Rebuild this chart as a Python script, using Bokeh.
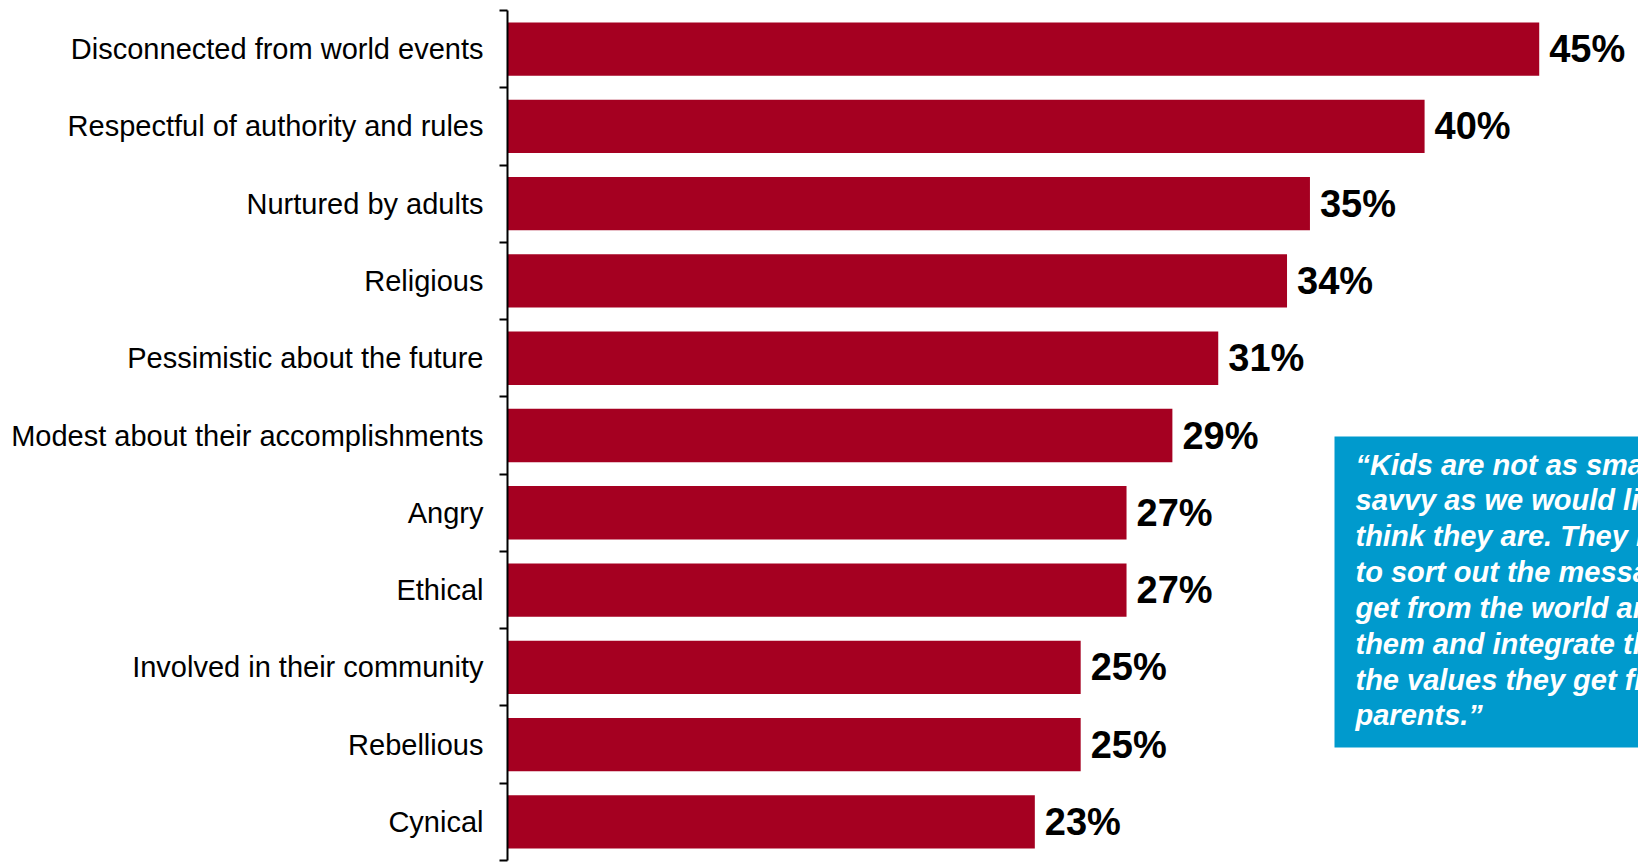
from bokeh.plotting import figure
from bokeh.models import Range1d, FixedTicker
from bokeh.embed import file_html
from bokeh.resources import INLINE
from bokeh.core.properties import value

categories = [
    "Disconnected from world events",
    "Respectful of authority and rules",
    "Nurtured by adults",
    "Religious",
    "Pessimistic about the future",
    "Modest about their accomplishments",
    "Angry",
    "Ethical",
    "Involved in their community",
    "Rebellious",
    "Cynical",
]
values = [45, 40, 35, 34, 31, 29, 27, 27, 25, 25, 23]
value_labels = [f"{v}%" for v in values]
quote_lines = [
    "\u201cKids are not as smart and",
    "savvy as we would like to",
    "think they are. They need help",
    "to sort out the messages they",
    "get from the world around",
    "them and integrate them with",
    "the values they get from",
    "parents.\u201d",
]

n = len(categories)
centers = [i + 0.5 for i in range(n)]
boundaries = [float(i) for i in range(n + 1)]

W, H = 1638, 866
FRAME_LEFT = 507
TOP = 10
BOTTOM = 6
X_MAX = 49.33
PX_X = (W - FRAME_LEFT) / X_MAX
PX_Y = (H - TOP - BOTTOM) / n

def dx(px):
    return (px - FRAME_LEFT) / PX_X

def dy(py):
    return (py - TOP) / PX_Y

p = figure(width=W, height=H,
           x_range=Range1d(0, X_MAX), y_range=Range1d(n, 0),
           output_backend="svg", toolbar_location=None,
           min_border_left=FRAME_LEFT, min_border_right=0,
           min_border_top=TOP, min_border_bottom=BOTTOM,
           x_axis_location=None)
p.outline_line_color = None
p.xgrid.visible = False
p.ygrid.visible = False
p.background_fill_color = "white"
p.border_fill_color = "white"

ax = p.yaxis[0]
ax.ticker = FixedTicker(ticks=centers, minor_ticks=boundaries)
ax.major_label_overrides = {c: lab for c, lab in zip(centers, categories)}
ax.major_tick_out = 0
ax.major_tick_in = 0
ax.minor_tick_out = 8
ax.minor_tick_in = 0
ax.minor_tick_line_color = "black"
ax.minor_tick_line_width = 2
ax.axis_line_color = "black"
ax.axis_line_width = 2
ax.major_label_standoff = 16
ax.major_label_text_font = "Liberation Sans"
ax.major_label_text_font_size = "29px"
ax.major_label_text_color = "black"

p.hbar(y=centers, right=values, left=0, height=0.69,
       fill_color="#A50021", line_color=None)

p.text(x=values, y=centers, text=value_labels, x_offset=10,
       text_baseline="middle", text_align="left",
       text_font=value("Liberation Sans"), text_font_style="bold",
       text_font_size="38px", text_color="black")

p.quad(left=[dx(1334)], right=[X_MAX + 5], top=[dy(436)], bottom=[dy(747)],
       fill_color="#009ACD", line_color=None)

p.text(x=[dx(1355)], y=[dy(448)], text=["\n".join(quote_lines)],
       text_baseline="top", text_align="left",
       text_font=value("Liberation Sans"), text_font_style="bold italic",
       text_font_size="29px", text_color="white", text_line_height=1.12)

open("out.html", "w").write(file_html(p, INLINE))
